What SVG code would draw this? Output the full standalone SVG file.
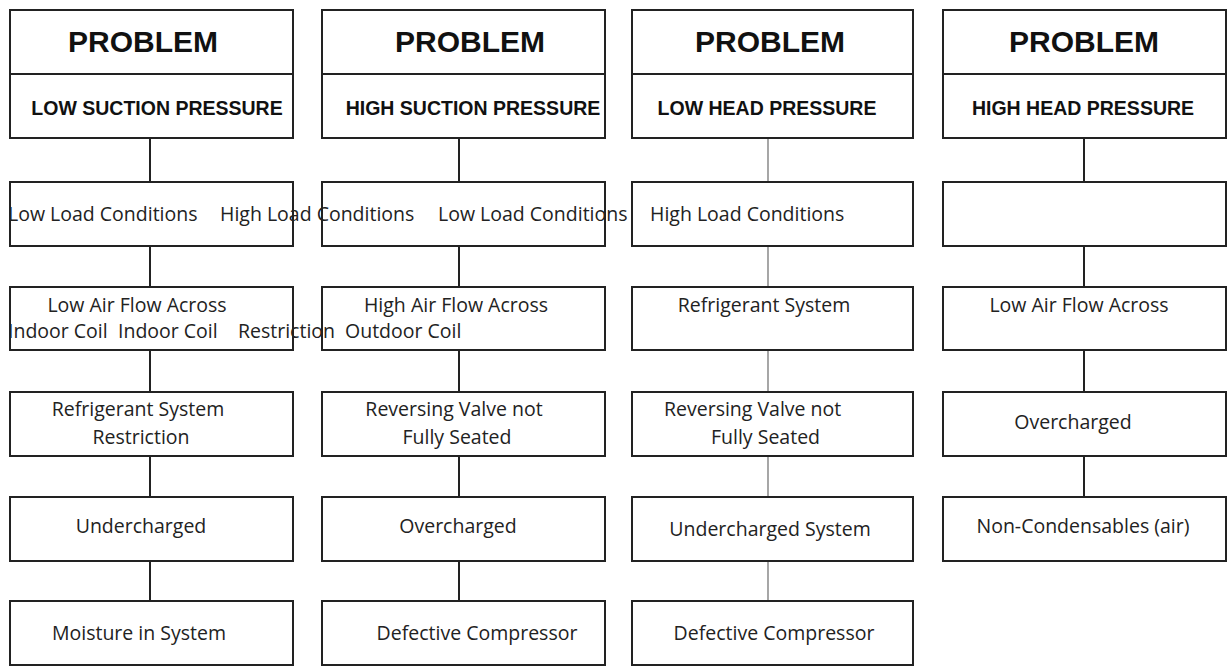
<svg xmlns="http://www.w3.org/2000/svg" width="1231" height="667" viewBox="0 0 1231 667">
<style>
rect{fill:#fff;stroke:#222;stroke-width:2}
.h{font:bold 30px "Liberation Sans",Arial,sans-serif;text-anchor:middle;fill:#111}
.s{font:bold 19.5px "Liberation Sans",Arial,sans-serif;text-anchor:middle;fill:#111}
.t{font:19.5px "Open Sans","Noto Sans",sans-serif;fill:#222}
.c{text-anchor:middle}
line{stroke:#222;stroke-width:2}
.g{stroke:#777;stroke-width:1.3}
</style>
<rect width="1231" height="667" style="fill:#fff;stroke:none"/>
<g id="connectors">
<line x1="150" y1="138" x2="150" y2="601"/>
<line x1="459" y1="138" x2="459" y2="601"/>
<line class="g" x1="768" y1="138" x2="768" y2="601"/>
<line x1="1084" y1="138" x2="1084" y2="497"/>
</g>
<g id="col1">
<rect x="10" y="10" width="283" height="64"/><rect x="10" y="74" width="283" height="64"/>
<rect x="10" y="182" width="283" height="64"/><rect x="10" y="287" width="283" height="63"/>
<rect x="10" y="392" width="283" height="64"/><rect x="10" y="497" width="283" height="64"/>
<rect x="10" y="601" width="283" height="64"/>
<text class="h" x="143" y="52">PROBLEM</text><text class="s" x="157" y="115">LOW SUCTION PRESSURE</text>
</g>
<g id="col2">
<rect x="322" y="10" width="283" height="64"/><rect x="322" y="74" width="283" height="64"/>
<rect x="322" y="182" width="283" height="64"/><rect x="322" y="287" width="283" height="63"/>
<rect x="322" y="392" width="283" height="64"/><rect x="322" y="497" width="283" height="64"/>
<rect x="322" y="601" width="283" height="64"/>
<text class="h" x="470" y="52">PROBLEM</text><text class="s" x="473" y="115">HIGH SUCTION PRESSURE</text>
</g>
<g id="col3">
<rect x="632" y="10" width="281" height="64"/><rect x="632" y="74" width="281" height="64"/>
<rect x="632" y="182" width="281" height="64"/><rect x="632" y="287" width="281" height="63"/>
<rect x="632" y="392" width="281" height="64"/><rect x="632" y="497" width="281" height="64"/>
<rect x="632" y="601" width="281" height="64"/>
<text class="h" x="770" y="52">PROBLEM</text><text class="s" x="767" y="115">LOW HEAD PRESSURE</text>
</g>
<g id="col4">
<rect x="943" y="10" width="283" height="64"/><rect x="943" y="74" width="283" height="64"/>
<rect x="943" y="182" width="283" height="64"/><rect x="943" y="287" width="283" height="63"/>
<rect x="943" y="392" width="283" height="64"/><rect x="943" y="497" width="283" height="64"/>
<text class="h" x="1084" y="52">PROBLEM</text><text class="s" x="1083" y="115">HIGH HEAD PRESSURE</text>
</g>
<g id="labels" class="t">
<text x="8" y="221">Low Load Conditions</text>
<text x="220" y="221">High Load Conditions</text>
<text x="438" y="221">Low Load Conditions</text>
<text x="650" y="221">High Load Conditions</text>
<text class="c" x="137" y="312">Low Air Flow Across</text>
<text x="8" y="338">Indoor Coil</text>
<text x="118" y="338">Indoor Coil</text>
<text x="238" y="338">Restriction</text>
<text x="345" y="338">Outdoor Coil</text>
<text class="c" x="456" y="312">High Air Flow Across</text>
<text class="c" x="764" y="312">Refrigerant System</text>
<text class="c" x="1079" y="312">Low Air Flow Across</text>
<text class="c" x="138" y="416">Refrigerant System</text>
<text class="c" x="141" y="444">Restriction</text>
<text class="c" x="454" y="416">Reversing Valve not</text>
<text class="c" x="457" y="444">Fully Seated</text>
<text x="664" y="416">Reversing Valve not</text>
<text x="711" y="444">Fully Seated</text>
<text class="c" x="1073" y="429">Overcharged</text>
<text class="c" x="141" y="533">Undercharged</text>
<text class="c" x="458" y="533">Overcharged</text>
<text class="c" x="770" y="536">Undercharged System</text>
<text class="c" x="1083" y="533">Non-Condensables (air)</text>
<text class="c" x="139" y="640">Moisture in System</text>
<text class="c" x="477" y="640">Defective Compressor</text>
<text class="c" x="774" y="640">Defective Compressor</text>
</g>
</svg>
